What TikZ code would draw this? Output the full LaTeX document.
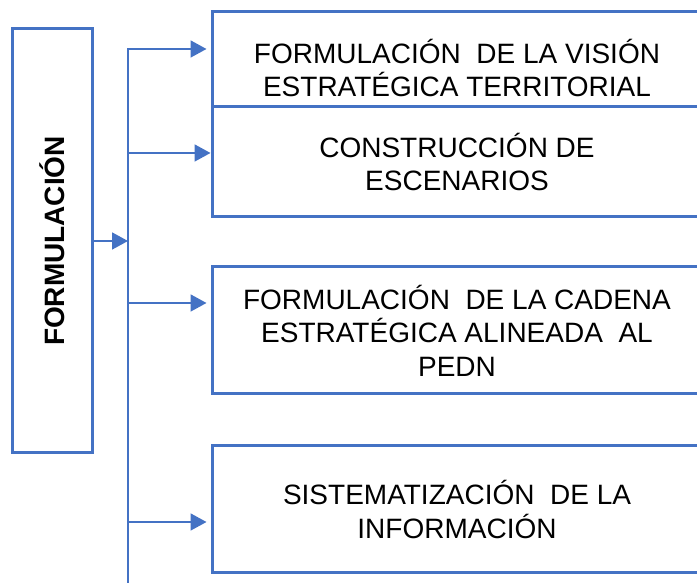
\documentclass[tikz,border=0pt]{standalone}
\usepackage{fontspec}
\setmainfont{Liberation Sans}
\usetikzlibrary{positioning,calc,arrows.meta}
\definecolor{planblue}{RGB}{68,114,196}
\tikzset{
  stagebox/.style={draw=planblue, line width=3pt, fill=white, minimum width=490pt,
    align=center, inner sep=0pt, font=\fontsize{28}{33.5}\selectfont},
  flow/.style={draw=planblue, line width=1.8pt, -{Triangle[length=16pt,width=17pt]}},
}

\begin{document}
\begin{tikzpicture}[x=1pt,y=1pt]
    \useasboundingbox (0,0) rectangle (697,583);

    % fase
    \node[draw=planblue, line width=3pt, minimum width=80pt, minimum height=424pt,
      inner sep=0pt, font=\fontsize{28}{33.5}\selectfont] (phase) at (52,342)
      {\rotatebox{90}{\textbf{FORMULACIÓN}}};

    % etapas
    \node[stagebox, minimum height=112pt] (vision) at (457,515)
      {FORMULACIÓN\ \ DE LA VISIÓN\\ESTRATÉGICA TERRITORIAL};
    \node[stagebox, minimum height=110pt] (scenes) at (457,421)
      {CONSTRUCCIÓN DE\\ESCENARIOS};
    \node[stagebox, minimum height=127pt] (chain) at (457,252.5)
      {FORMULACIÓN\ \ DE LA CADENA\\ESTRATÉGICA ALINEADA\ \ AL\\PEDN};
    \node[stagebox, minimum height=127pt] (info) at (457,73.5)
      {SISTEMATIZACIÓN\ \ DE LA\\INFORMACIÓN};

    % bus
    \coordinate (bustop) at (128,534);
    \coordinate (busend) at (128,-5);
    \coordinate (toscenes) at (128,430);
    \coordinate (tochain) at (128,280);
    \coordinate (toinfo) at (128,61);

    \draw[flow] (phase.east) -- (phase.east -| bustop);
    \draw[flow, shorten >=4pt] (busend) -- (bustop) -- (bustop -| vision.west);
    \draw[flow] (toscenes) -- (toscenes -| scenes.west);
    \draw[flow, shorten >=4pt] (tochain) -- (tochain -| chain.west);
    \draw[flow, shorten >=4pt] (toinfo) -- (toinfo -| info.west);
\end{tikzpicture}
\end{document}
